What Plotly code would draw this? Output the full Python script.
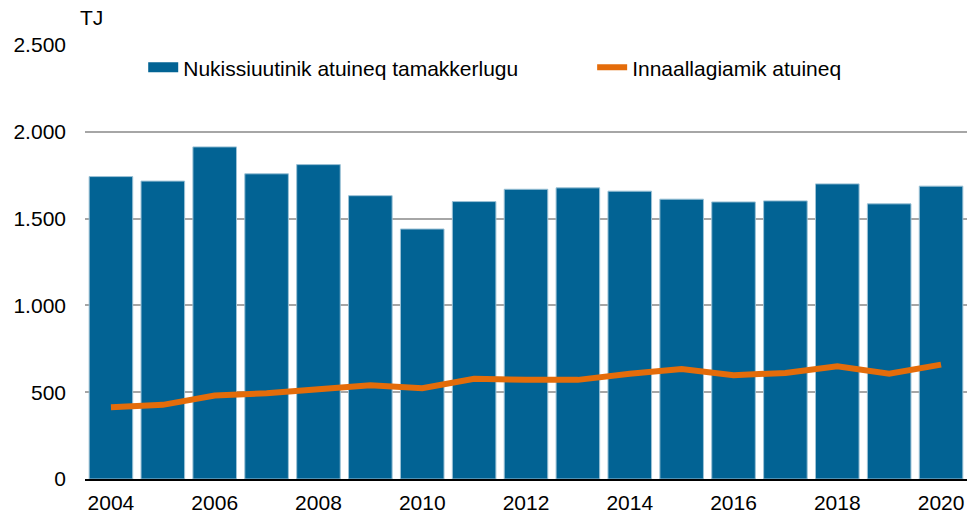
import plotly.graph_objects as go

years = list(range(2004, 2021))
total_use = [1742, 1716, 1913, 1758, 1811, 1632, 1440, 1598, 1669, 1677, 1658, 1612, 1596, 1602, 1700, 1585, 1687]
electricity_use = [414, 427, 481, 494, 517, 540, 523, 577, 571, 571, 606, 634, 598, 611, 649, 606, 659]
bar_name = "Nukissiuutinik atuineq tamakkerlugu"
line_name = "Innaallagiamik atuineq"
unit_label = "TJ"

BLUE = "#026394"
ORANGE = "#E46C0A"
FONT = "Liberation Sans, Arial, sans-serif"
FS = 21

fig = go.Figure()
fig.add_trace(go.Bar(
    x=years, y=total_use, name=bar_name, showlegend=False,
    marker=dict(color=BLUE, line=dict(color="#9cc2d6", width=1)),
))
fig.add_trace(go.Scatter(
    x=years, y=electricity_use, name=line_name, mode="lines", showlegend=False,
    line=dict(color=ORANGE, width=6),
))
# legend-only proxies
fig.add_trace(go.Scatter(x=[None], y=[None], mode="lines", name=bar_name,
                         line=dict(color=BLUE, width=10), legend="legend"))
fig.add_trace(go.Scatter(x=[None], y=[None], mode="lines", name=line_name,
                         line=dict(color=ORANGE, width=6), legend="legend2"))

leg_common = dict(orientation="h", yanchor="top", xanchor="left",
                  bgcolor="rgba(0,0,0,0)", font=dict(family=FONT, size=FS))

fig.update_layout(
    width=969, height=513,
    margin=dict(l=85, r=2, t=45, b=34),
    paper_bgcolor="white", plot_bgcolor="white",
    font=dict(family=FONT, size=FS, color="#000000"),
    separators=",.",
    bargap=0.16,
    legend=dict(x=0.066, y=0.995, **leg_common),
    legend2=dict(x=0.575, y=0.995, **leg_common),
    xaxis=dict(range=[2003.5, 2020.5], tickmode="linear", tick0=2004, dtick=2,
               showgrid=False, showline=True, linecolor="#000000", linewidth=2,
               ticks="", ticklabelstandoff=4, zeroline=False, automargin=False),
    yaxis=dict(range=[0, 2500], tickmode="linear", tick0=0, dtick=500,
               tickformat=",d", showgrid=True, gridcolor="#A6A6A6", gridwidth=1.5,
               zeroline=False, showline=False, ticks="", ticklabelstandoff=18,
               automargin=False),
    annotations=[dict(text=unit_label, xref="paper", yref="paper", x=-0.008, y=1,
                      xanchor="left", yanchor="bottom", yshift=14, showarrow=False,
                      font=dict(family=FONT, size=FS))],
)

fig.write_html("out.html", config={"displayModeBar": False},
               post_script="document.body.style.margin='0';")
